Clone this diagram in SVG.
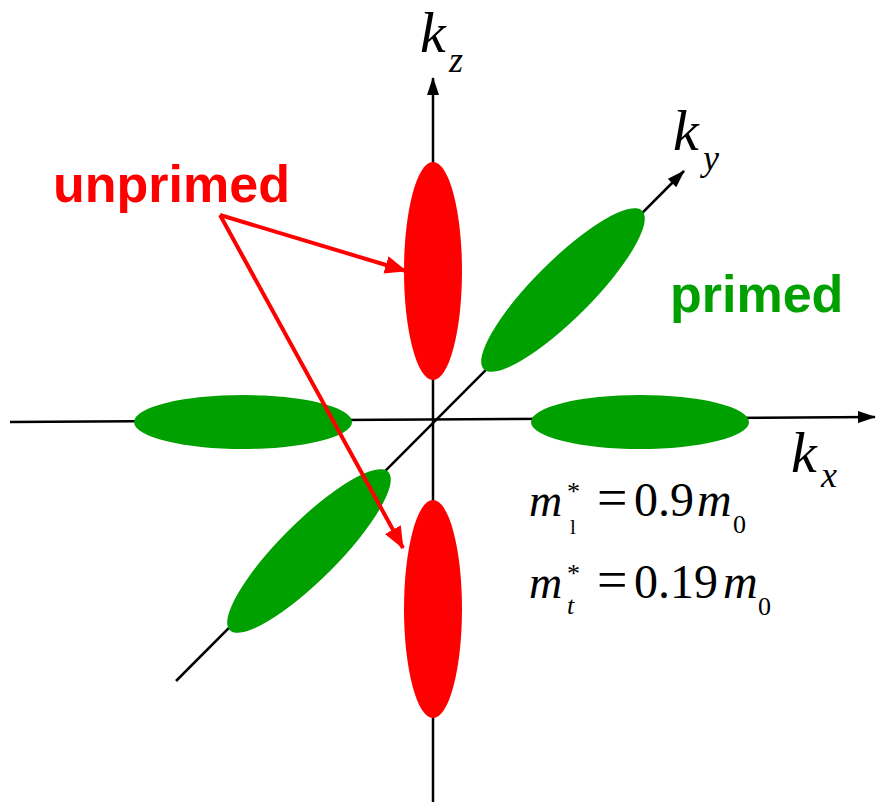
<svg xmlns="http://www.w3.org/2000/svg" width="876" height="802" viewBox="0 0 876 802">
<defs>
<marker id="ah" viewBox="0 0 18 12" refX="17" refY="6" markerWidth="18" markerHeight="12" markerUnits="userSpaceOnUse" orient="auto"><path d="M0,0 L18,6 L0,12 z" fill="#000"/></marker>
<marker id="rh" viewBox="0 0 22 18" refX="21" refY="9" markerWidth="22" markerHeight="18" markerUnits="userSpaceOnUse" orient="auto"><path d="M0,0 L22,9 L0,18 z" fill="#ff0000"/></marker>
<style>
.axis{stroke:#000;stroke-width:2.5;fill:none}
.red{fill:#ff0000}
.green{fill:#00a000}
.lbl{font-family:"Liberation Sans",Arial,sans-serif;font-weight:bold;font-size:52px}
.arr{stroke:#ff0000;stroke-width:4;fill:none}
</style>
</defs>
<g id="axes">
<line class="axis" x1="433" y1="802" x2="433" y2="78" marker-end="url(#ah)"/>
<line class="axis" x1="10" y1="422" x2="875" y2="417" marker-end="url(#ah)"/>
<line class="axis" x1="176" y1="681" x2="684" y2="171" marker-end="url(#ah)"/>
</g>
<g id="unprimed-top"><ellipse class="red" cx="433" cy="271" rx="29" ry="109"/></g>
<g id="unprimed-bottom"><ellipse class="red" cx="433" cy="609" rx="29" ry="109"/></g>
<g id="primed-left"><ellipse class="green" cx="243" cy="422" rx="109" ry="27"/></g>
<g id="primed-right"><ellipse class="green" cx="640" cy="422" rx="109" ry="27"/></g>
<g id="primed-upper"><ellipse class="green" cx="563" cy="290" rx="112" ry="29" transform="rotate(-45 563 290)"/></g>
<g id="primed-lower"><ellipse class="green" cx="309" cy="551" rx="112" ry="29" transform="rotate(-45 309 551)"/></g>
<g id="connectors">
<line class="arr" x1="220" y1="215" x2="406" y2="271" marker-end="url(#rh)"/>
<line class="arr" x1="220" y1="215" x2="403" y2="548" marker-end="url(#rh)"/>
</g>
<g id="label-unprimed"><text class="lbl" x="53" y="202" fill="#ff0000">unprimed</text></g>
<g id="label-primed"><text class="lbl" x="670" y="312" fill="#00a000">primed</text></g>
<g font-family="'Liberation Serif','Times New Roman',serif" font-style="italic">
<g id="label-kz"><text x="420" y="52" font-size="58">k</text><text x="449" y="72" font-size="36">z</text></g>
<g id="label-ky"><text x="673" y="150" font-size="58">k</text><text x="703" y="170" font-size="36">y</text></g>
<g id="label-kx"><text x="791" y="472" font-size="58">k</text><text x="821" y="487" font-size="36">x</text></g>
</g>
<g id="formula1" font-family="'Liberation Serif','Times New Roman',serif">
<text x="529" y="516" font-size="46" font-style="italic">m</text>
<text x="567" y="500" font-size="26">*</text>
<text x="570" y="534" font-size="21">l</text>
<text x="597" y="516" font-size="54">=</text>
<text x="634" y="516" font-size="48">0.9</text>
<text x="697" y="516" font-size="48" font-style="italic">m</text>
<text x="733" y="533" font-size="26">0</text>
</g>
<g id="formula2" font-family="'Liberation Serif','Times New Roman',serif">
<text x="529" y="598" font-size="46" font-style="italic">m</text>
<text x="567" y="582" font-size="26">*</text>
<text x="567" y="614" font-size="26" font-style="italic">t</text>
<text x="597" y="598" font-size="54">=</text>
<text x="634" y="598" font-size="48">0.19</text>
<text x="723" y="598" font-size="48" font-style="italic">m</text>
<text x="758" y="615" font-size="26">0</text>
</g>
</svg>
